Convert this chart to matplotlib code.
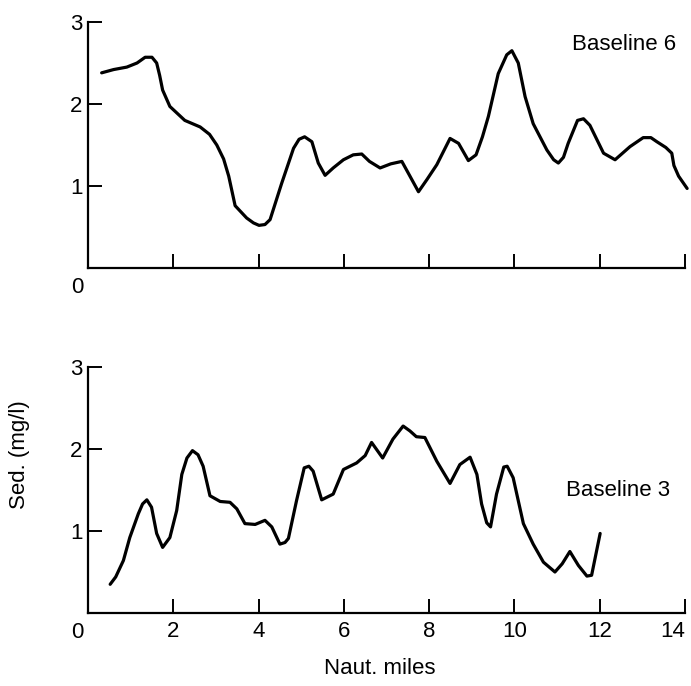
import matplotlib
matplotlib.use("Agg")
import numpy as np
import matplotlib.pyplot as plt

plt.rcParams['font.family'] = ['Liberation Sans', 'DejaVu Sans']

# Baseline 6 (top panel)
b6_x = [0.32, 0.60, 0.91, 1.15, 1.34, 1.50, 1.61, 1.68, 1.75, 1.92, 2.27, 2.63,
        2.85, 3.02, 3.18, 3.30, 3.45, 3.72, 3.88, 4.01, 4.15, 4.27, 4.54, 4.82,
        4.95, 5.08, 5.25, 5.40, 5.56, 5.75, 5.99, 6.22, 6.42, 6.60, 6.85, 7.10,
        7.36, 7.55, 7.75, 7.95, 8.18, 8.49, 8.69, 8.92, 9.10, 9.25, 9.39, 9.62,
        9.82, 9.94, 10.09, 10.25, 10.44, 10.76, 10.92, 11.03, 11.15, 11.26,
        11.48, 11.62, 11.77, 12.09, 12.36, 12.71, 13.02, 13.20, 13.34, 13.55,
        13.69, 13.74, 13.85, 14.05]
b6_y = [2.38, 2.42, 2.45, 2.50, 2.57, 2.57, 2.50, 2.35, 2.17, 1.97, 1.80, 1.72,
        1.63, 1.50, 1.33, 1.12, 0.76, 0.61, 0.55, 0.52, 0.53, 0.59, 1.03, 1.46,
        1.57, 1.60, 1.54, 1.28, 1.13, 1.22, 1.32, 1.38, 1.39, 1.30, 1.22, 1.27,
        1.30, 1.12, 0.93, 1.08, 1.26, 1.58, 1.52, 1.31, 1.38, 1.60, 1.85, 2.37,
        2.60, 2.65, 2.50, 2.09, 1.76, 1.44, 1.32, 1.28, 1.35, 1.52, 1.80, 1.82,
        1.74, 1.40, 1.32, 1.48, 1.59, 1.59, 1.54, 1.47, 1.40, 1.25, 1.12, 0.97]

# Baseline 3 (bottom panel)
b3_x = [0.52, 0.65, 0.83, 0.98, 1.18, 1.28, 1.38, 1.49, 1.61, 1.75, 1.92, 2.08,
        2.20, 2.32, 2.45, 2.58, 2.70, 2.86, 3.10, 3.33, 3.49, 3.68, 3.92, 4.15,
        4.31, 4.50, 4.62, 4.70, 4.89, 5.07, 5.18, 5.28, 5.48, 5.75, 5.99, 6.30,
        6.50, 6.65, 6.91, 7.15, 7.39, 7.55, 7.70, 7.90, 8.18, 8.49, 8.72, 8.96,
        9.12, 9.23, 9.35, 9.44, 9.58, 9.75, 9.83, 9.97, 10.21, 10.44, 10.68,
        10.95, 11.12, 11.30, 11.50, 11.70, 11.81, 12.01]
b3_y = [0.35, 0.44, 0.64, 0.92, 1.21, 1.33, 1.38, 1.29, 0.97, 0.80, 0.92, 1.25,
        1.69, 1.89, 1.98, 1.93, 1.79, 1.43, 1.36, 1.35, 1.27, 1.09, 1.08, 1.13,
        1.05, 0.84, 0.86, 0.91, 1.37, 1.77, 1.79, 1.73, 1.38, 1.45, 1.75, 1.83,
        1.92, 2.08, 1.89, 2.12, 2.28, 2.22, 2.15, 2.14, 1.85, 1.58, 1.81, 1.90,
        1.69, 1.33, 1.10, 1.05, 1.45, 1.78, 1.79, 1.65, 1.09, 0.84, 0.62, 0.50,
        0.60, 0.75, 0.58, 0.45, 0.46, 0.97]

x_ticks = [2, 4, 6, 8, 10, 12, 14]
y_ticks = [1, 2, 3]

W, H = 691, 686
fig = plt.figure(figsize=(W / 100, H / 100), dpi=100)
ax_top = fig.add_axes([88 / W, 1 - 268 / H, 597 / W, 246 / H])
ax_bot = fig.add_axes([88 / W, 1 - 613 / H, 597 / W, 246 / H])

fs = 16
for ax in (ax_top, ax_bot):
    ax.set_xlim(0, 14)
    ax.set_ylim(0, 3)
    for s in ('top', 'right'):
        ax.spines[s].set_visible(False)
    for s in ('left', 'bottom'):
        ax.spines[s].set_linewidth(1.6)
    ax.set_xticks(x_ticks)
    ax.set_yticks(y_ticks)
    ax.set_yticklabels([str(v) for v in y_ticks], fontsize=fs)
    ax.tick_params(direction='in', length=10, width=1.4, pad=4)
    ax.tick_params(axis='x', pad=6)
    ax.text(-0.018, -0.035, '0', transform=ax.transAxes, ha='center', va='top',
            fontsize=fs)

ax_top.set_xticklabels([])
ax_bot.set_xticklabels([str(v) for v in x_ticks], fontsize=fs)
# last label sits right at the figure edge, nudge it inside
ax_bot.get_xticklabels()[-1].set_horizontalalignment('right')
ax_bot.get_xticklabels()[-1].set_x(14.12)

ax_top.plot(b6_x, b6_y, color='black', lw=2.3, clip_on=False,
            solid_joinstyle='round', solid_capstyle='round')
ax_bot.plot(b3_x, b3_y, color='black', lw=2.3, clip_on=False,
            solid_joinstyle='round', solid_capstyle='round')

ax_top.text(11.35, 2.73, 'Baseline 6', fontsize=fs, va='center', ha='left')
ax_bot.text(11.2, 1.49, 'Baseline 3', fontsize=fs, va='center', ha='left')

fig.text(20 / W, 1 - 455 / H, 'Sed. (mg/l)', rotation=90, ha='center',
         va='center', fontsize=fs)
fig.text(380 / W, 1 - 668 / H, 'Naut. miles', ha='center', va='center',
         fontsize=fs)

fig.savefig('out.png', dpi=100, facecolor='white')
